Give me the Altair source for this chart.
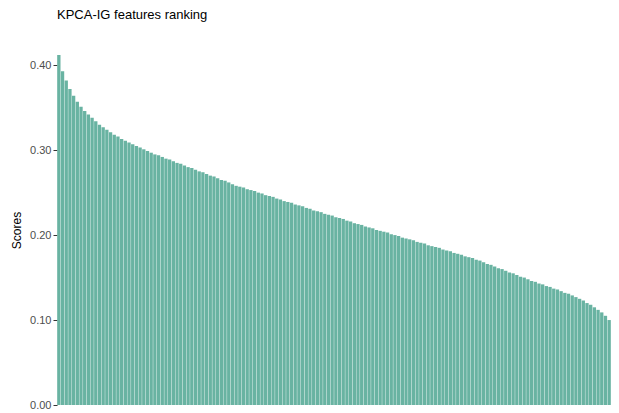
import altair as alt
import pandas as pd

scores = [
    0.412, 0.393, 0.382, 0.372, 0.364, 0.357, 0.351, 0.346, 0.342, 0.338,
    0.334, 0.330, 0.327, 0.324, 0.321, 0.318, 0.316, 0.313, 0.311, 0.309,
    0.307, 0.305, 0.303, 0.301, 0.299, 0.297, 0.295, 0.294, 0.292, 0.290,
    0.289, 0.287, 0.285, 0.284, 0.282, 0.280, 0.279, 0.277, 0.275, 0.274,
    0.272, 0.270, 0.269, 0.267, 0.265, 0.264, 0.262, 0.260, 0.258, 0.257,
    0.256, 0.254, 0.253, 0.252, 0.250, 0.249, 0.247, 0.246, 0.245, 0.243,
    0.242, 0.240, 0.239, 0.238, 0.236, 0.235, 0.234, 0.232, 0.231, 0.229,
    0.228, 0.227, 0.225, 0.224, 0.223, 0.221, 0.220, 0.219, 0.217, 0.216,
    0.214, 0.213, 0.212, 0.210, 0.209, 0.208, 0.206, 0.205, 0.204, 0.203,
    0.201, 0.200, 0.199, 0.197, 0.196, 0.195, 0.194, 0.192, 0.191, 0.190,
    0.188, 0.187, 0.186, 0.185, 0.183, 0.182, 0.181, 0.179, 0.178, 0.177,
    0.175, 0.174, 0.173, 0.171, 0.170, 0.168, 0.166, 0.165, 0.163, 0.161,
    0.160, 0.158, 0.156, 0.155, 0.153, 0.151, 0.150, 0.148, 0.146, 0.145,
    0.143, 0.142, 0.140, 0.139, 0.137, 0.136, 0.134, 0.132, 0.131, 0.129,
    0.127, 0.125, 0.123, 0.120, 0.118, 0.115, 0.112, 0.109, 0.105, 0.100,
]
features = [f"F{i + 1}" for i in range(len(scores))]
y_ticks = [0.0, 0.1, 0.2, 0.3, 0.4]

df = pd.DataFrame({"feature": features, "score": scores, "rank": list(range(1, len(scores) + 1))})

chart = (
    alt.Chart(df)
    .mark_bar(color="#69b3a2")
    .encode(
        x=alt.X(
            "feature:N",
            sort=alt.SortField("rank", order="ascending"),
            axis=None,
            scale=alt.Scale(paddingInner=0.1, paddingOuter=0.05, round=False),
        ),
        y=alt.Y(
            "score:Q",
            title="Scores",
            scale=alt.Scale(domain=[0, max(scores)], nice=False, zero=True),
            axis=alt.Axis(
                values=y_ticks,
                format=".2f",
                grid=False,
                domain=False,
                tickColor="#333333",
                tickSize=4,
                labelColor="#4d4d4d",
                labelFontSize=11,
                labelFont="Liberation Sans",
                labelPadding=2,
                titleFont="Liberation Sans",
                titleFontSize=12,
                titleFontWeight="normal",
                titleColor="#000000",
                titlePadding=6,
            ),
        ),
    )
    .properties(
        width=554,
        height=350,
        title=alt.TitleParams(
            "KPCA-IG features ranking",
            anchor="start",
            frame="group",
            font="Liberation Sans",
            fontSize=13,
            fontWeight="normal",
            color="#000000",
            offset=33,
        ),
        autosize=alt.AutoSizeParams(type="none"),
        padding={"left": 49, "top": 47, "right": 0, "bottom": 6},
    )
    .configure_view(stroke=None)
)

chart.save("out.html", embed_options={"renderer": "svg", "actions": False})
